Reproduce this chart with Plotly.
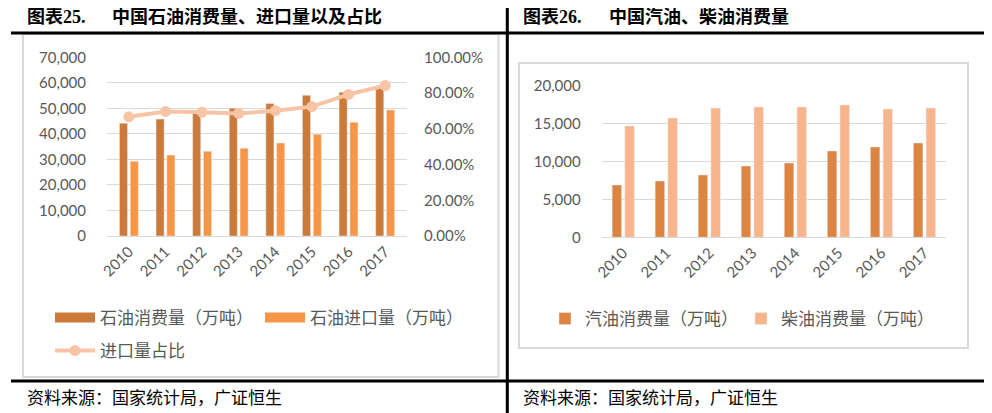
import plotly.graph_objects as go

W, H = 992, 413
OFF = 8  # page body margin in the browser

# ---- data ----
years = ["2010", "2011", "2012", "2013", "2014", "2015", "2016", "2017"]
oil_consumption = [44200, 45800, 48000, 50000, 51900, 55100, 56300, 58200]   # 万吨
oil_import = [29300, 31700, 33200, 34400, 36400, 39900, 44600, 49400]        # 万吨
import_share = [0.667, 0.697, 0.693, 0.686, 0.701, 0.724, 0.792, 0.842]
gasoline = [6880, 7410, 8200, 9380, 9780, 11360, 11880, 12410]               # 万吨
diesel = [14650, 15700, 17010, 17150, 17150, 17410, 16880, 17010]            # 万吨

left_ticks = [0, 10000, 20000, 30000, 40000, 50000, 60000, 70000]
share_ticks = [0, 0.2, 0.4, 0.6, 0.8, 1.0]
right_ticks = [0, 5000, 10000, 15000, 20000]

C_CONS = "#CC7A3A"
C_IMP = "#F79646"
C_SHARE = "#F8C4A6"
C_GAS = "#DD8440"
C_DIE = "#F8B58C"
GRID = "#D9D9D9"
TXT = "#595959"
FONT = "Lato, Noto Sans CJK SC, sans-serif"
CJK = "Noto Sans CJK SC, sans-serif"
SERIF = "Liberation Serif, Noto Sans CJK SC, serif"


def fx(px):
    return (px - OFF) / W


def fy(py):
    return 1 - (py - OFF) / H


fig = go.Figure()

# ---- left chart: consumption / import / share ----
fig.add_trace(go.Bar(x=years, y=oil_consumption, name="石油消费量（万吨）",
                     marker_color=C_CONS, xaxis="x", yaxis="y", showlegend=False))
fig.add_trace(go.Bar(x=years, y=oil_import, name="石油进口量（万吨）",
                     marker_color=C_IMP, xaxis="x", yaxis="y", showlegend=False))
fig.add_trace(go.Scatter(x=years, y=import_share, name="进口量占比", mode="lines+markers",
                         line=dict(color=C_SHARE, width=4),
                         marker=dict(size=11, color=C_SHARE),
                         xaxis="x", yaxis="y2", legend="legend2"))
# wide swatches for the bar legend (Excel style)
for nm, col in [("石油消费量（万吨）", C_CONS), ("石油进口量（万吨）", C_IMP)]:
    fig.add_trace(go.Scatter(x=[None], y=[None], name=nm, mode="lines",
                             line=dict(color=col, width=10), xaxis="x", yaxis="y",
                             legend="legend"))

# ---- right chart: gasoline / diesel ----
fig.add_trace(go.Bar(x=years, y=gasoline, name="汽油消费量（万吨）",
                     marker_color=C_GAS, xaxis="x2", yaxis="y3", legend="legend3"))
fig.add_trace(go.Bar(x=years, y=diesel, name="柴油消费量（万吨）",
                     marker_color=C_DIE, xaxis="x2", yaxis="y3", legend="legend3"))

axis_common = dict(showgrid=True, gridcolor=GRID, gridwidth=1, zeroline=False,
                   ticks="", tickfont=dict(family=FONT, size=15, color=TXT))
xcommon = dict(showgrid=False, showline=True, linecolor=GRID, linewidth=1, ticks="",
               tickangle=-45, tickfont=dict(family=FONT, size=15, color=TXT))
leg_font = dict(family=CJK, size=17, color=TXT)

fig.update_layout(
    width=W, height=H,
    margin=dict(l=0, r=0, t=0, b=0, autoexpand=False),
    paper_bgcolor="white", plot_bgcolor="white",
    barmode="group", bargap=0.41, bargroupgap=0.25,
    xaxis=dict(domain=[fx(107), fx(407)], anchor="y", **xcommon),
    yaxis=dict(domain=[fy(236), fy(57.3)], range=[0, 70000], tickvals=left_ticks,
               tickformat=",d", ticklabelstandoff=20, anchor="x", **axis_common),
    yaxis2=dict(overlaying="y", side="right", range=[0, 1], tickvals=share_ticks,
                tickformat=".2%", showgrid=False, zeroline=False, ticks="",
                ticklabelstandoff=16, anchor="x",
                tickfont=dict(family=FONT, size=15, color=TXT)),
    xaxis2=dict(domain=[fx(601.7), fx(946)], anchor="y3", **xcommon),
    yaxis3=dict(domain=[fy(237.3), fy(85.3)], range=[0, 20000], tickvals=right_ticks,
                tickformat=",d", ticklabelstandoff=20, anchor="x2", **axis_common),
    legend=dict(orientation="h", x=fx(50), y=fy(318), xanchor="left", yanchor="middle",
                entrywidth=155, font=leg_font, bgcolor="rgba(0,0,0,0)", itemwidth=40),
    legend2=dict(orientation="h", x=fx(50), y=fy(351), xanchor="left", yanchor="middle",
                 font=leg_font, bgcolor="rgba(0,0,0,0)", itemwidth=40),
    legend3=dict(orientation="h", x=fx(545), y=fy(319), xanchor="left", yanchor="middle",
                 entrywidth=151, font=leg_font, bgcolor="rgba(0,0,0,0)"),
)

# ---- frames and rules ----
shapes = [
    dict(type="rect", x0=fx(23), x1=fx(498.5), y0=fy(377), y1=fy(34),
         line=dict(color=GRID, width=2)),
    dict(type="rect", x0=fx(519), x1=fx(968), y0=fy(348), y1=fy(63),
         line=dict(color=GRID, width=2)),
    dict(type="line", x0=fx(11), x1=fx(992), y0=fy(33), y1=fy(33),
         line=dict(color="black", width=3)),
    dict(type="line", x0=fx(11), x1=fx(992), y0=fy(381), y1=fy(381),
         line=dict(color="black", width=3)),
    dict(type="line", x0=fx(507.3), x1=fx(507.3), y0=fy(413), y1=fy(0),
         line=dict(color="black", width=3)),
]
for s in shapes:
    s.update(xref="paper", yref="paper", layer="above")
fig.update_layout(shapes=shapes)

title_font = dict(family=SERIF, size=18, color="black")
src_font = dict(family=SERIF, size=17, color="black")
notes = [
    ("<b>图表25.</b>", 25, 17, title_font),
    ("<b>中国石油消费量、进口量以及占比</b>", 110, 17, title_font),
    ("<b>图表26.</b>", 521, 17, title_font),
    ("<b>中国汽油、柴油消费量</b>", 607, 17, title_font),
    ("资料来源：国家统计局，广证恒生", 25, 398, src_font),
    ("资料来源：国家统计局，广证恒生", 521, 398, src_font),
]
for txt, x, y, f in notes:
    fig.add_annotation(text=txt, x=fx(x), y=fy(y), xref="paper", yref="paper",
                       xanchor="left", yanchor="middle", showarrow=False, font=f)

fig.write_html("out.html")
